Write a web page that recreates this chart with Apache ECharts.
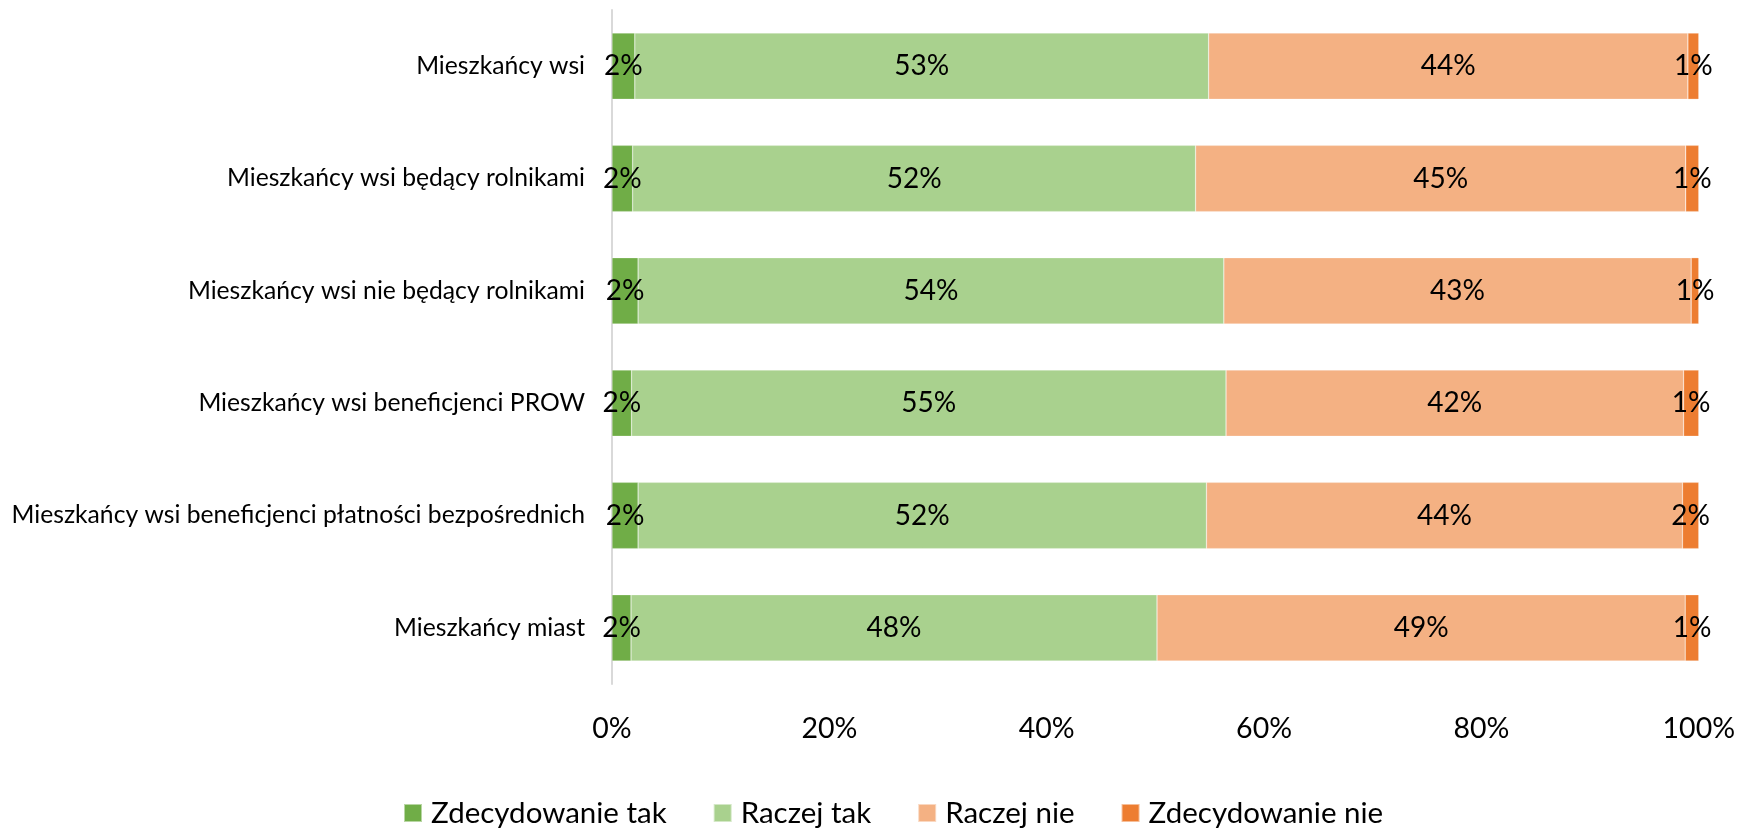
<!DOCTYPE html>
<html><head><meta charset="utf-8">
<script src="https://cdn.jsdelivr.net/npm/echarts@6/dist/echarts.min.js"></script>
<style>html,body{margin:0;padding:0;background:#fff}#c{width:1738px;height:829px}</style>
</head><body><div id="c"></div>
<script>
const categories = [
  "Mieszkańcy wsi",
  "Mieszkańcy wsi będący rolnikami",
  "Mieszkańcy wsi nie będący rolnikami",
  "Mieszkańcy wsi beneficjenci PROW",
  "Mieszkańcy wsi beneficjenci płatności bezpośrednich",
  "Mieszkańcy miast"
];
const seriesNames = ["Zdecydowanie tak", "Raczej tak", "Raczej nie", "Zdecydowanie nie"];
const zdecydowanieTak = [2.1, 1.9, 2.4, 1.8, 2.4, 1.75];
const raczejTak      = [52.8, 51.8, 53.9, 54.7, 52.3, 48.4];
const raczejNie      = [44.1, 45.1, 43.0, 42.1, 43.8, 48.6];
const zdecydowanieNie= [1.0, 1.2, 0.7, 1.4, 1.5, 1.25];
const tickLabels = ["0%", "20%", "40%", "60%", "80%", "100%"];
const colors = ["#70AD47", "#A9D18E", "#F4B183", "#ED7D31"];
const FONT = "Lato";

const seriesData = [zdecydowanieTak, raczejTak, raczejNie, zdecydowanieNie];
const chart = echarts.init(document.getElementById('c'), null, {renderer: 'canvas'});
chart.setOption({
  animation: false,
  textStyle: {fontFamily: FONT},
  color: colors,
  grid: {left: 612, right: 39, top: 10, bottom: 145, containLabel: false},
  legend: {
    top: 793, left: 398, padding: 5,
    itemWidth: 18, itemHeight: 18, itemGap: 46,
    icon: 'rect',
    textStyle: {fontFamily: FONT, fontSize: 29.5, lineHeight: 30, color: '#000', padding: [0,0,0,4]},
    data: seriesNames
  },
  xAxis: {
    type: 'value', min: 0, max: 100, interval: 20,
    axisLine: {show: false}, axisTick: {show: false}, splitLine: {show: false},
    axisLabel: {fontFamily: FONT, fontSize: 28.5, color: '#000', margin: 30,
      formatter: (v) => tickLabels[Math.round(v / 20)]}
  },
  yAxis: {
    type: 'category', data: categories, inverse: true,
    axisLine: {show: true, lineStyle: {color: '#D9D9D9', width: 2}},
    axisTick: {show: false},
    axisLabel: {fontFamily: FONT, fontSize: 24.7, color: '#000', margin: 27}
  },
  series: seriesData.map((d, i) => ({
    name: seriesNames[i], type: 'bar', stack: 'total', data: d,
    barCategoryGap: '41%',
    itemStyle: {borderColor: 'rgba(255,255,255,0.5)', borderWidth: 0.5},
    label: {show: true, position: 'inside', fontFamily: FONT, fontSize: 28, color: '#000',
      formatter: (p) => Math.round(p.value) + '%'}
  }))
});
</script></body></html>
